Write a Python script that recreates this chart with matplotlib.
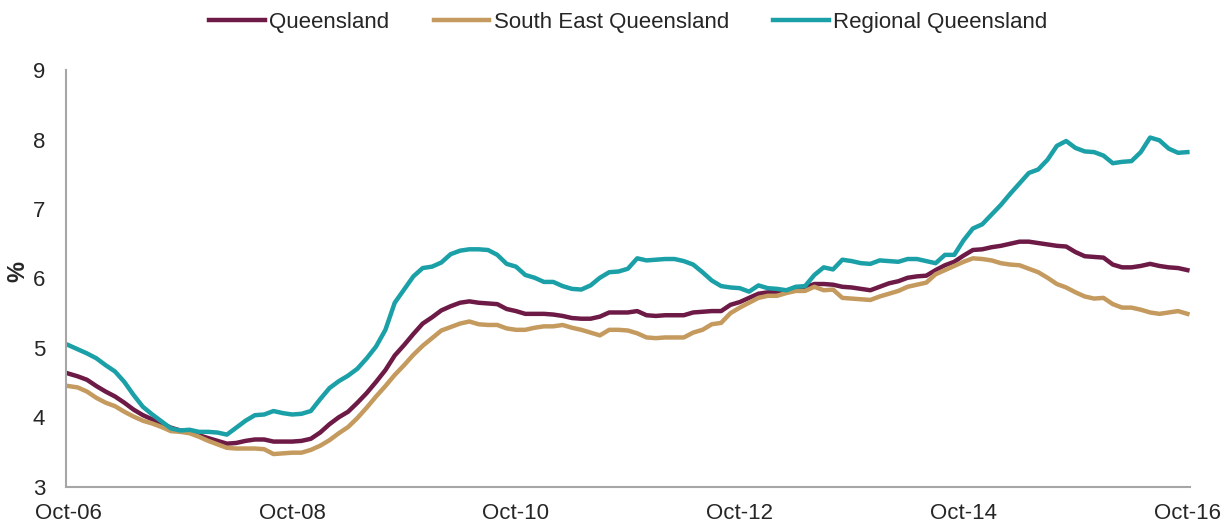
import matplotlib
matplotlib.use("Agg")
import matplotlib.pyplot as plt

# monthly series, Oct-06 .. Oct-16 (121 months), unemployment rate %
month_idx = list(range(121))
tick_pos = [0, 24, 48, 72, 96, 120]
tick_labels = ["Oct-06", "Oct-08", "Oct-10", "Oct-12", "Oct-14", "Oct-16"]

queensland = [
    4.63, 4.59, 4.54, 4.45, 4.37, 4.30, 4.21, 4.11, 4.03, 3.97,
    3.91, 3.85, 3.81, 3.79, 3.74, 3.70, 3.66, 3.62, 3.63, 3.66,
    3.68, 3.68, 3.65, 3.65, 3.65, 3.66, 3.69, 3.78, 3.90, 4.00,
    4.08, 4.21, 4.35, 4.51, 4.68, 4.89, 5.04, 5.20, 5.35, 5.44,
    5.54, 5.60, 5.65, 5.67, 5.65, 5.64, 5.63, 5.56, 5.53, 5.49,
    5.49, 5.49, 5.48, 5.46, 5.43, 5.42, 5.42, 5.45, 5.51, 5.51,
    5.51, 5.53, 5.47, 5.46, 5.47, 5.47, 5.47, 5.51, 5.52, 5.53,
    5.53, 5.62, 5.66, 5.72, 5.78, 5.80, 5.81, 5.83, 5.84, 5.87,
    5.92, 5.92, 5.91, 5.88, 5.87, 5.85, 5.83, 5.88, 5.93, 5.96,
    6.01, 6.03, 6.04, 6.12, 6.19, 6.24, 6.33, 6.41, 6.42, 6.45,
    6.47, 6.50, 6.53, 6.53, 6.51, 6.49, 6.47, 6.46, 6.38, 6.32,
    6.31, 6.30, 6.20, 6.16, 6.16, 6.18, 6.21, 6.18, 6.16, 6.15,
    6.12,
]

south_east = [
    4.45, 4.43, 4.37, 4.28, 4.21, 4.16, 4.08, 4.01, 3.95, 3.91,
    3.86, 3.80, 3.79, 3.77, 3.72, 3.66, 3.61, 3.56, 3.55, 3.55,
    3.55, 3.54, 3.47, 3.48, 3.49, 3.49, 3.53, 3.59, 3.67, 3.77,
    3.86, 3.99, 4.14, 4.30, 4.45, 4.61, 4.75, 4.90, 5.03, 5.14,
    5.25, 5.30, 5.35, 5.38, 5.34, 5.33, 5.33, 5.28, 5.26, 5.26,
    5.29, 5.31, 5.31, 5.33, 5.29, 5.26, 5.22, 5.18, 5.26, 5.26,
    5.25, 5.21, 5.15, 5.14, 5.15, 5.15, 5.15, 5.22, 5.26, 5.34,
    5.36, 5.50, 5.58, 5.65, 5.72, 5.75, 5.75, 5.79, 5.82, 5.82,
    5.88, 5.83, 5.84, 5.72, 5.71, 5.70, 5.69, 5.74, 5.78, 5.82,
    5.88, 5.91, 5.94, 6.06, 6.12, 6.18, 6.24, 6.29, 6.28, 6.26,
    6.22, 6.20, 6.19, 6.14, 6.09, 6.01, 5.92, 5.87, 5.80, 5.74,
    5.71, 5.72, 5.63, 5.58, 5.58, 5.55, 5.51, 5.49, 5.51, 5.53,
    5.49,
]

regional = [
    5.04, 4.98, 4.92, 4.85, 4.75, 4.66, 4.51, 4.32, 4.15, 4.04,
    3.94, 3.84, 3.81, 3.82, 3.79, 3.79, 3.78, 3.75, 3.85, 3.95,
    4.03, 4.04, 4.09, 4.06, 4.04, 4.05, 4.09, 4.26, 4.42, 4.52,
    4.60, 4.70, 4.85, 5.02, 5.26, 5.65, 5.84, 6.03, 6.15, 6.17,
    6.23, 6.35, 6.40, 6.42, 6.42, 6.41, 6.34, 6.21, 6.17, 6.05,
    6.01, 5.95, 5.95, 5.89, 5.85, 5.84, 5.90, 6.01, 6.09, 6.10,
    6.14, 6.29, 6.26, 6.27, 6.28, 6.28, 6.25, 6.20, 6.09, 5.97,
    5.89, 5.87, 5.86, 5.81, 5.90, 5.86, 5.85, 5.83, 5.88, 5.89,
    6.05, 6.16, 6.13, 6.27, 6.25, 6.22, 6.21, 6.26, 6.25, 6.24,
    6.28, 6.28, 6.25, 6.22, 6.34, 6.34, 6.55, 6.72, 6.78, 6.92,
    7.06, 7.22, 7.37, 7.52, 7.57, 7.71, 7.91, 7.98, 7.88, 7.83,
    7.82, 7.77, 7.66, 7.68, 7.69, 7.82, 8.03, 7.99, 7.87, 7.81,
    7.82,
]

plt.rcParams["font.family"] = ["Liberation Sans", "DejaVu Sans"]
text_color = "#262626"
axis_color = "#a6a6a6"

fig = plt.figure(figsize=(12.27, 5.24), dpi=100)
ax = fig.add_axes([0.0538, 0.0712, 0.9162, 0.7948])

ax.plot(month_idx, queensland, color="#6d1a46", lw=3.2, label="Queensland")
ax.plot(month_idx, south_east, color="#c49a5e", lw=3.2, label="South East Queensland")
ax.plot(month_idx, regional, color="#1ba0a8", lw=3.2, label="Regional Queensland")

ax.set_xlim(-0.25, 120.3)
ax.set_ylim(3, 9)
ax.set_yticks(range(3, 10))
ax.set_xticks(tick_pos)
ax.set_xticklabels(tick_labels)

for side in ("top", "right"):
    ax.spines[side].set_visible(False)
for side in ("left", "bottom"):
    ax.spines[side].set_color(axis_color)
    ax.spines[side].set_linewidth(1.5)

ax.tick_params(axis="both", length=0, labelsize=16, colors=text_color)
ax.tick_params(axis="y", pad=15)
ax.tick_params(axis="x", pad=12)

# y axis title sits well left of the tick labels
fig.text(18 / 1227, 1 - 272 / 524, "%", rotation=90, ha="center", va="center",
         fontsize=17, fontweight="bold", color=text_color)

fig.legend(loc="center", bbox_to_anchor=(0.512, 0.957), ncol=3, frameon=False,
           fontsize=16, handlelength=2.5, handletextpad=0.2, columnspacing=2.0,
           labelcolor=text_color)

fig.savefig("out.png", dpi=100)
plt.close(fig)
